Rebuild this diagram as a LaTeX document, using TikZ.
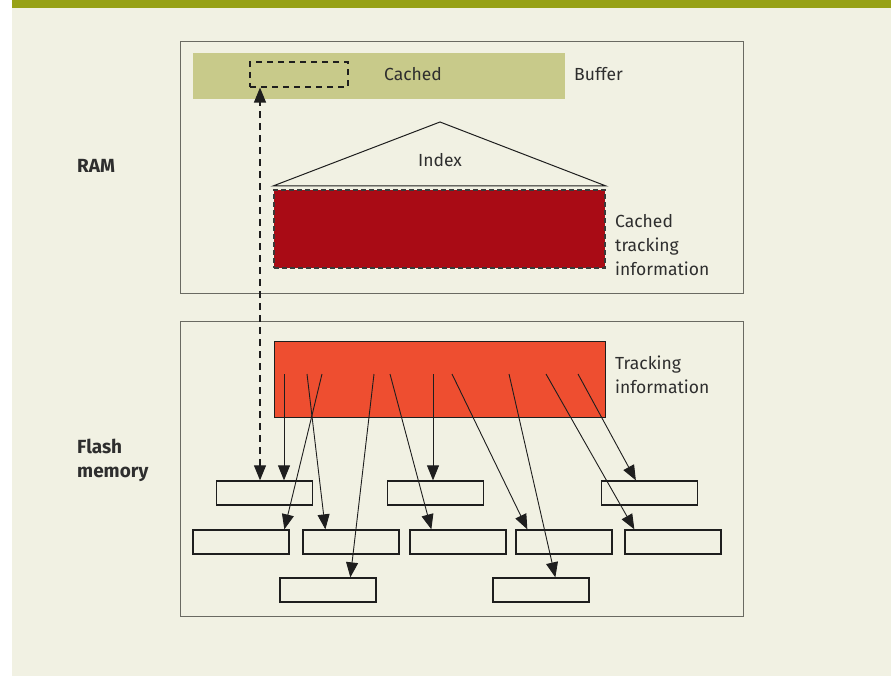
\documentclass[tikz,border=0pt]{standalone}
\usepackage{fontspec}
\setmainfont{Fira Sans}
\usetikzlibrary{arrows.meta}
\definecolor{bg}{HTML}{F1F1E3}
\definecolor{topbar}{HTML}{97A116}
\definecolor{bufg}{HTML}{C8CA8A}
\definecolor{darkred}{HTML}{A90B15}
\definecolor{orred}{HTML}{EE4E30}
\definecolor{txt}{HTML}{2E2E2E}
\definecolor{frame}{HTML}{6A6A62}
\definecolor{ink}{HTML}{1E1E1E}
\definecolor{dashc}{HTML}{3A3A3A}
\begin{document}
\begin{tikzpicture}[x=1pt,y=-1pt,
  lbl/.style={text=txt,font=\fontsize{17.5}{24}\selectfont,inner sep=0pt},
  side/.style={lbl,anchor=west,align=left},
  bold/.style={side,font=\fontsize{19}{24}\selectfont\bfseries},
  outer/.style={draw=frame,line width=0.8pt,inner sep=0pt},
  page/.style={draw=ink,line width=1.3pt,minimum width=96pt,minimum height=24pt,inner sep=0pt},
  tip/.tip={Triangle[length=15pt,width=12pt]},
  ptr/.style={draw=ink,line width=0.9pt,-tip},
  dptr/.style={draw=ink,line width=1.1pt,dash pattern=on 7pt off 5pt,tip-tip}
]
\useasboundingbox (0,0) rectangle (891,676);
\fill[white] (0,0) rectangle (891,676);
\fill[bg] (12,8) rectangle (891,676);
\fill[topbar] (12,0) rectangle (891,8);

% frames
\node[outer,minimum width=563pt,minimum height=252pt] (ram) at (461.5,167) {};
\node[outer,minimum width=563pt,minimum height=295pt] (flash) at (461.5,468.5) {};

% RAM content
\node[fill=bufg,minimum width=372pt,minimum height=46pt,inner sep=0pt] (buf) at (379,76) {};
\node[draw=ink,line width=1.1pt,dash pattern=on 6pt off 5pt,minimum width=98pt,minimum height=25pt,inner sep=0pt] (dsm) at (299,74.5) {};
\node[lbl] (cachedtxt) at (413,74) {Cached};
\node[side] (buflbl) at (574,74) {Buffer};
\node[bold] (ramlbl) at (77,166) {RAM};

\coordinate (apex) at (440,122);
\coordinate (bl) at (273,186);
\coordinate (br) at (606,186);
\draw[ink,line width=1pt] (apex) -- (bl) -- (br) -- cycle;
\node[lbl] (idx) at (440,160) {Index};

\node[fill=darkred,draw=dashc,line width=1.2pt,dash pattern=on 5pt off 3pt,minimum width=331pt,minimum height=78pt,inner sep=0pt] (ctrack) at (439.5,229) {};
\node[side] (ctlbl) at (615,245) {Cached\\tracking\\information};

% Flash content
\node[fill=orred,draw=ink,line width=1pt,minimum width=331pt,minimum height=76pt,inner sep=0pt] (track) at (439.5,379) {};
\node[side] (tlbl) at (615,375) {Tracking\\information};
\node[bold] (flbl) at (77,460) {Flash\\memory};

% pages
\node[page] (A) at (264.5,493) {};
\node[page] (B) at (435.5,493) {};
\node[page] (C) at (649.5,493) {};
\node[page] (D) at (241,542) {};
\node[page] (E) at (351,542) {};
\node[page] (F) at (458,542) {};
\node[page] (G) at (564,542) {};
\node[page] (H) at (673,542) {};
\node[page] (I) at (328,590) {};
\node[page] (J) at (541,590) {};

% pointer sources
\coordinate (s1) at (284,374);
\coordinate (s2) at (307,374);
\coordinate (s3) at (322,374);
\coordinate (s4) at (374,374);
\coordinate (s5) at (390,374);
\coordinate (s6) at (433,374);
\coordinate (s7) at (452,374);
\coordinate (s8) at (509,374);
\coordinate (s9) at (546,374);
\coordinate (s10) at (578,374);

\draw[ptr] (s1) -- (s1 |- A.north);
\draw[ptr] (s2) -- ([xshift=23pt]E.north west);
\draw[ptr] (s3) -- ([xshift=92pt]D.north west);
\draw[ptr] (s4) -- ([xshift=71pt]I.north west);
\draw[ptr] (s5) -- ([xshift=22pt]F.north west);
\draw[ptr] (s6) -- (s6 |- B.north);
\draw[ptr] (s7) -- ([xshift=12pt]G.north west);
\draw[ptr] (s8) -- ([xshift=63pt]J.north west);
\draw[ptr] (s9) -- ([xshift=10pt]H.north west);
\draw[ptr] (s10) -- ([xshift=35pt]C.north west);

% dashed link
\coordinate (dx) at (260,0);
\draw[dptr] (dx |- A.north) -- (dx |- dsm.south);
\end{tikzpicture}
\end{document}
